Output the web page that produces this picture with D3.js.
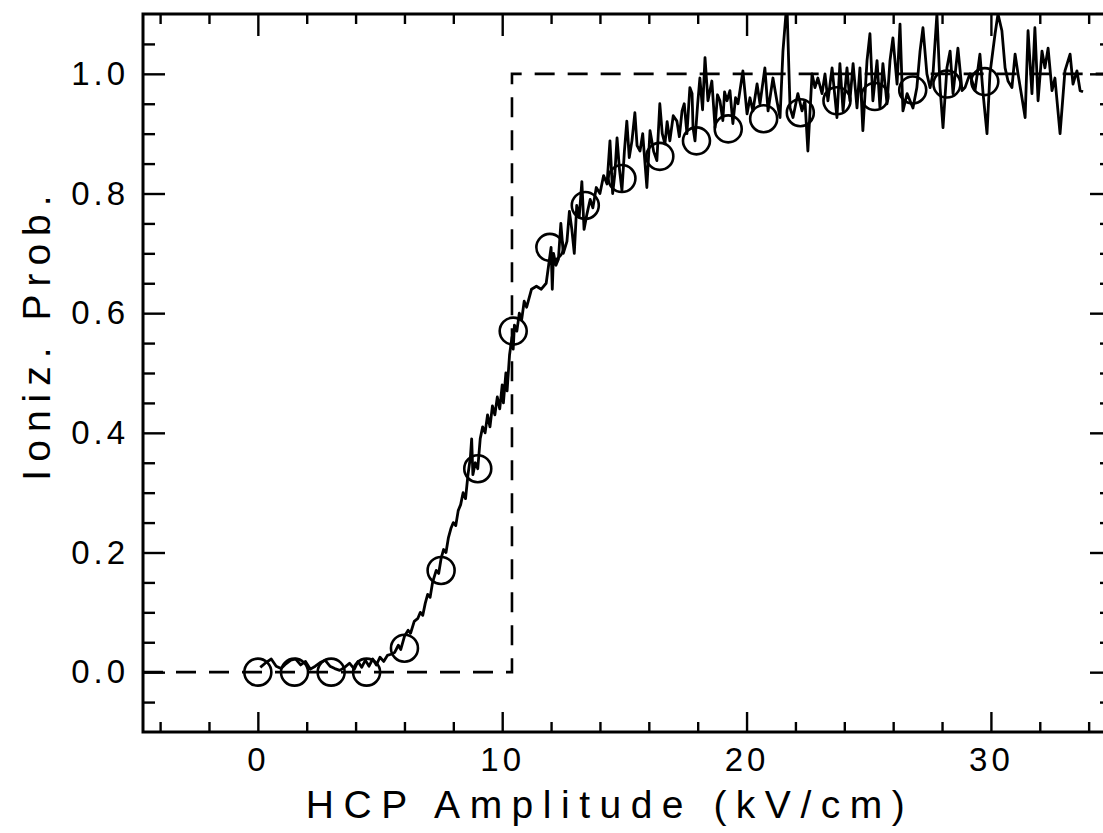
<!DOCTYPE html>
<html>
<head>
<meta charset="utf-8">
<script src="https://cdn.jsdelivr.net/npm/d3@7"></script>
<style>
  body { margin: 0; background: #fff; }
  svg { display: block; }
  text { font-family: "Liberation Sans", Arial, sans-serif; fill: #000; }
</style>
</head>
<body>
<div id="chart"></div>
<script>
// Axis ranges and tick values
const xDomain = [-4.7, 34.71];
const yDomain = [-0.1, 1.1];
const xMajorTicks = [0, 10, 20, 30];
const xMinorTicks = [-4, -2, 2, 4, 6, 8, 12, 14, 16, 18, 22, 24, 26, 28, 32, 34];
const yMajorTicks = [0, 0.2, 0.4, 0.6, 0.8, 1.0];
const yMinorTicks = [-0.05, 0.05, 0.1, 0.15, 0.25, 0.3, 0.35, 0.45, 0.5, 0.55, 0.65, 0.7, 0.75, 0.85, 0.9, 0.95, 1.05];

// Step (dashed) curve
const stepX = [-4.7, 10.4, 10.4, 34.71];
const stepY = [0, 0, 1, 1];

// Open circles
const circleX = [0, 1.5, 3.0, 4.45, 6.0, 7.5, 9.0, 10.45, 11.95, 13.4, 14.9, 16.45, 17.95, 19.25, 20.7, 22.2, 23.7, 25.25, 26.8, 28.2, 29.75];
const circleY = [0, 0, 0, 0, 0.04, 0.17, 0.34, 0.57, 0.71, 0.78, 0.825, 0.862, 0.888, 0.908, 0.925, 0.935, 0.955, 0.962, 0.973, 0.983, 0.987];

// Measured ionization trace [field, probability]
const trace = [
  [0.1, 0.008], [0.3, 0.015], [0.55, 0.022], [0.75, 0.01], [0.95, 0.006], [1.15, 0.014],
  [1.35, 0.02], [1.55, 0.022], [1.75, 0.012], [1.95, 0.018], [2.15, 0.005], [2.35, 0.01],
  [2.55, 0.016], [2.75, 0.02], [2.95, 0.01], [3.15, 0.006], [3.35, 0.003], [3.55, 0.008],
  [3.75, 0.015], [3.95, 0.005], [4.1, 0.018], [4.25, 0.008], [4.4, 0.02], [4.55, 0.01],
  [4.7, 0.022], [4.85, 0.012], [5.0, 0.025], [5.15, 0.018], [5.3, 0.028], [5.45, 0.03],
  [5.6, 0.033], [5.75, 0.045], [5.85, 0.038], [6.0, 0.06], [6.15, 0.07], [6.25, 0.065],
  [6.4, 0.085], [6.55, 0.09], [6.65, 0.1], [6.75, 0.095], [6.85, 0.115], [6.95, 0.13],
  [7.05, 0.125], [7.15, 0.15], [7.3, 0.17], [7.4, 0.165], [7.5, 0.19], [7.6, 0.205],
  [7.7, 0.2], [7.8, 0.225], [7.9, 0.24], [8.0, 0.25], [8.1, 0.245], [8.2, 0.27],
  [8.3, 0.28], [8.4, 0.3], [8.5, 0.29], [8.6, 0.33], [8.7, 0.36], [8.75, 0.39],
  [8.8, 0.33], [8.9, 0.35], [9.0, 0.34], [9.1, 0.39], [9.2, 0.41], [9.3, 0.4],
  [9.4, 0.43], [9.5, 0.41], [9.6, 0.445], [9.7, 0.43], [9.8, 0.46], [9.9, 0.44],
  [10.0, 0.48], [10.05, 0.45], [10.15, 0.5], [10.2, 0.47], [10.3, 0.53], [10.4, 0.56],
  [10.45, 0.54], [10.5, 0.58], [10.6, 0.57], [10.7, 0.6], [10.8, 0.59], [10.9, 0.62],
  [11.0, 0.61], [11.2, 0.64], [11.4, 0.645], [11.6, 0.64], [11.8, 0.65], [11.9, 0.68],
  [12.0, 0.71], [12.05, 0.64], [12.1, 0.7], [12.2, 0.68], [12.3, 0.69], [12.4, 0.75],
  [12.5, 0.7], [12.65, 0.72], [12.75, 0.77], [12.85, 0.74], [12.95, 0.7], [13.05, 0.78],
  [13.15, 0.76], [13.26, 0.82], [13.35, 0.74], [13.47, 0.766], [13.6, 0.79], [13.71, 0.776],
  [13.85, 0.81], [14.0, 0.8], [14.15, 0.83], [14.29, 0.816], [14.41, 0.888], [14.52, 0.8],
  [14.61, 0.833], [14.7, 0.893], [14.8, 0.84], [14.9, 0.805], [15.0, 0.87], [15.1, 0.921],
  [15.2, 0.86], [15.31, 0.888], [15.43, 0.935], [15.52, 0.88], [15.64, 0.871], [15.75, 0.9],
  [15.92, 0.81], [16.05, 0.905], [16.2, 0.87], [16.33, 0.855], [16.45, 0.95], [16.55, 0.9],
  [16.66, 0.883], [16.75, 0.92], [16.86, 0.888], [17.0, 0.93], [17.15, 0.921], [17.25, 0.895],
  [17.36, 0.938], [17.45, 0.95], [17.56, 0.9], [17.68, 0.977], [17.77, 0.967], [17.81, 0.91],
  [17.89, 0.888], [18.0, 0.95], [18.09, 0.993], [18.2, 0.94], [18.3, 1.027], [18.42, 0.955],
  [18.58, 0.988], [18.71, 0.91], [18.81, 0.965], [18.91, 0.955], [19.03, 0.922], [19.1, 0.97],
  [19.2, 0.955], [19.32, 0.972], [19.44, 0.917], [19.55, 0.96], [19.65, 0.95], [19.85, 1.005],
  [20.02, 0.933], [20.14, 0.96], [20.26, 0.938], [20.43, 0.983], [20.55, 0.95], [20.75, 1.01],
  [20.88, 0.938], [21.08, 0.993], [21.24, 0.955], [21.37, 0.927], [21.49, 1.038], [21.65, 1.12],
  [21.78, 0.943], [21.9, 0.927], [22.1, 0.967], [22.27, 0.938], [22.39, 0.955], [22.51, 0.871],
  [22.68, 1.0], [22.8, 0.977], [22.92, 0.993], [23.09, 0.967], [23.21, 1.0], [23.33, 0.955],
  [23.5, 1.01], [23.7, 0.927], [23.82, 1.017], [23.95, 0.938], [24.11, 1.01], [24.23, 0.955],
  [24.36, 1.017], [24.52, 0.943], [24.64, 1.01], [24.76, 0.905], [24.93, 1.022], [25.05, 1.067],
  [25.17, 0.955], [25.34, 1.022], [25.46, 0.943], [25.58, 1.017], [25.75, 0.95], [25.87, 1.022],
  [25.99, 1.06], [26.16, 0.983], [26.28, 1.083], [26.4, 0.938], [26.57, 0.967], [26.69, 0.955],
  [26.81, 0.943], [26.97, 0.977], [27.1, 1.038], [27.22, 1.077], [27.38, 1.0], [27.51, 0.977],
  [27.63, 1.0], [27.79, 1.1], [27.92, 0.977], [28.04, 0.91], [28.2, 1.01], [28.33, 1.038],
  [28.45, 0.967], [28.65, 1.043], [28.82, 0.972], [28.94, 0.977], [29.14, 1.0], [29.35, 0.972],
  [29.55, 1.033], [29.68, 0.967], [29.84, 0.9], [29.96, 1.0], [30.17, 1.067], [30.29, 1.1],
  [30.45, 1.072], [30.58, 1.01], [30.7, 0.988], [30.86, 0.977], [30.99, 1.033], [31.11, 1.0],
  [31.27, 0.96], [31.4, 0.927], [31.52, 1.072], [31.68, 0.967], [31.8, 1.077], [31.93, 0.955],
  [32.09, 1.038], [32.21, 1.01], [32.34, 1.043], [32.5, 0.972], [32.62, 0.993], [32.83, 0.9],
  [33.03, 1.005], [33.24, 1.033], [33.36, 0.983], [33.52, 1.005], [33.65, 0.972], [33.77, 0.97]
];

const plotLeft = 143, plotRight = 1106, plotTop = 14, plotBottom = 732;

const svg = d3.select("#chart").append("svg")
  .attr("width", 1103)
  .attr("height", 833);

const x = d3.scaleLinear().domain(xDomain).range([plotLeft, plotRight]);
const y = d3.scaleLinear().domain(yDomain).range([plotBottom, plotTop]);

svg.append("clipPath").attr("id", "plot-clip")
  .append("rect")
  .attr("x", plotLeft).attr("y", plotTop)
  .attr("width", plotRight - plotLeft).attr("height", plotBottom - plotTop);

const plot = svg.append("g").attr("clip-path", "url(#plot-clip)");

const line = d3.line().x(d => x(d[0])).y(d => y(d[1]));

// Dashed step curve
plot.append("path")
  .datum(stepX.map((v, i) => [v, stepY[i]]))
  .attr("fill", "none")
  .attr("stroke", "#000")
  .attr("stroke-width", 2.6)
  .attr("stroke-dasharray", "20 13")
  .attr("d", line);

// Noisy trace
plot.append("path")
  .datum(trace)
  .attr("fill", "none")
  .attr("stroke", "#000")
  .attr("stroke-width", 2.8)
  .attr("stroke-linejoin", "round")
  .attr("d", line);

// Circles
plot.selectAll("circle.pt")
  .data(circleX.map((v, i) => [v, circleY[i]]))
  .enter().append("circle")
  .attr("class", "pt")
  .attr("cx", d => x(d[0]))
  .attr("cy", d => y(d[1]))
  .attr("r", 13.5)
  .attr("fill", "none")
  .attr("stroke", "#000")
  .attr("stroke-width", 2.6);

// Axes: ticks drawn inward
function styleAxis(g) {
  g.select(".domain").remove();
  g.selectAll("line").attr("stroke", "#000").attr("stroke-width", 2.4);
}

function styleLabels(g) {
  g.selectAll("text")
    .attr("font-size", 33)
    .attr("letter-spacing", 4)
    .attr("font-family", "Liberation Sans, Arial, sans-serif")
    .attr("fill", "#000");
}

// bottom
svg.append("g").attr("transform", `translate(0,${plotBottom})`)
  .call(d3.axisBottom(x).tickValues(xMajorTicks).tickSize(-20).tickFormat(d3.format("d")).tickPadding(16))
  .call(styleAxis)
  .call(styleLabels);
svg.append("g").attr("transform", `translate(0,${plotBottom})`)
  .call(d3.axisBottom(x).tickValues(xMinorTicks).tickSize(-10).tickFormat(""))
  .call(styleAxis);

// top
svg.append("g").attr("transform", `translate(0,${plotTop})`)
  .call(d3.axisTop(x).tickValues(xMajorTicks).tickSize(-22).tickFormat(""))
  .call(styleAxis);
svg.append("g").attr("transform", `translate(0,${plotTop})`)
  .call(d3.axisTop(x).tickValues(xMinorTicks).tickSize(-10).tickFormat(""))
  .call(styleAxis);

// left
svg.append("g").attr("transform", `translate(${plotLeft},0)`)
  .call(d3.axisLeft(y).tickValues(yMajorTicks).tickSize(-22).tickFormat(d3.format(".1f")).tickPadding(14))
  .call(styleAxis)
  .call(styleLabels);
svg.append("g").attr("transform", `translate(${plotLeft},0)`)
  .call(d3.axisLeft(y).tickValues(yMinorTicks).tickSize(-12).tickFormat(""))
  .call(styleAxis);

// right
svg.append("g").attr("transform", `translate(${plotRight},0)`)
  .call(d3.axisRight(y).tickValues(yMajorTicks).tickSize(-16).tickFormat(""))
  .call(styleAxis);
svg.append("g").attr("transform", `translate(${plotRight},0)`)
  .call(d3.axisRight(y).tickValues(yMinorTicks).tickSize(-6).tickFormat(""))
  .call(styleAxis);

// Frame
svg.append("rect")
  .attr("x", plotLeft).attr("y", plotTop)
  .attr("width", plotRight - plotLeft).attr("height", plotBottom - plotTop)
  .attr("fill", "none")
  .attr("stroke", "#000")
  .attr("stroke-width", 3);

// Axis titles
svg.append("text")
  .attr("x", 610).attr("y", 818)
  .attr("text-anchor", "middle")
  .attr("font-size", 39)
  .attr("letter-spacing", 9.5)
  .text("HCP Amplitude (kV/cm)");

svg.append("text")
  .attr("transform", "translate(50,334) rotate(-90)")
  .attr("text-anchor", "middle")
  .attr("font-size", 39)
  .attr("letter-spacing", 8)
  .text("Ioniz. Prob.");
</script>
</body>
</html>
